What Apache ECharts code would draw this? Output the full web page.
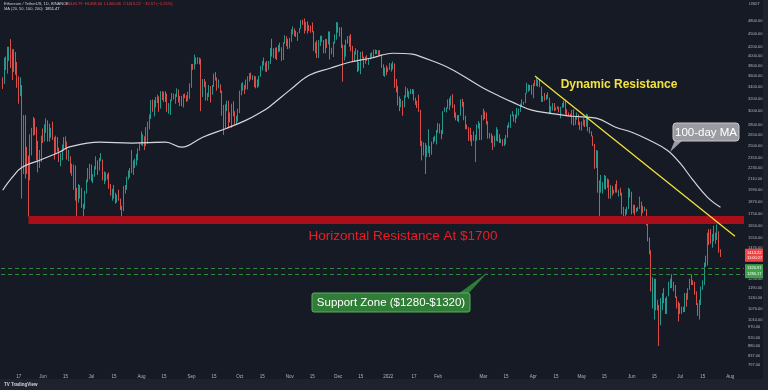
<!DOCTYPE html>
<html><head><meta charset="utf-8">
<script src="https://cdn.jsdelivr.net/npm/echarts@6/dist/echarts.min.js"></script>
<style>html,body{margin:0;padding:0;background:#161a25;}#c{width:768px;height:390px;}</style>
</head><body><div id="c"></div>
<script>
// ---------- DATA ----------
const startDate = '2021-05-07';
const firstOpen = 3490;
const closes = [
// May 2021 (7-31)
3480,3900,3950,3950,4168,3785,3715,4075,3642,3590,3280,3380,2450,2780,2430,2300,2100,2640,2700,2880,2740,2420,2280,2390,2630,
// Jun 2021
2590,2710,2860,2690,2630,2710,2590,2520,2610,2470,2360,2370,2510,2590,2550,2360,2370,2230,2160,2250,1890,1880,1970,1990,1830,1820,1970,2090,2160,2270,
// Jul 2021
2110,2150,2230,2320,2200,2320,2320,2110,2150,2140,2130,2030,1940,1990,1920,1880,1900,1890,1820,1790,1990,2030,2120,2190,2190,2230,2300,2300,2380,2460,2540,
// Aug 2021
2560,2610,2510,2720,2830,2890,3160,3010,3160,3140,3160,3040,3320,3270,3310,3170,3010,3030,3180,3290,3230,3240,3320,3170,3230,3100,3270,3240,3230,3230,3430,
// Sep 2021
3830,3790,3940,3890,3950,3930,3420,3490,3430,3200,3270,3410,3290,3430,3610,3570,3400,3430,3330,2970,2760,3080,3150,2930,2920,3060,2930,2810,2850,3000,
// Oct 2021
3310,3390,3420,3380,3520,3580,3590,3560,3580,3420,3540,3500,3600,3790,3870,3830,3850,3750,3880,4160,4060,3970,4170,4080,4220,4130,3920,4280,4420,4330,4290,
// Nov 2021
4320,4590,4610,4530,4470,4520,4620,4810,4730,4640,4720,4660,4640,4620,4560,4210,4290,3990,4300,4440,4320,4090,4340,4270,4520,4040,4100,4300,4440,4630,
// Dec 2021
4590,4510,4230,4120,4190,4350,4310,4440,4110,3900,4080,4130,3780,3860,4020,3960,3880,3960,3920,3940,4020,3980,4110,4050,4100,4070,4040,3800,3630,3710,3680,
// Jan 2022
3770,3830,3760,3790,3540,3410,3200,3080,3150,3080,3240,3370,3250,3310,3330,3350,3210,3160,3080,3000,2560,2410,2540,2440,2460,2470,2420,2550,2600,2600,2690,
// Feb 2022
2790,2690,2660,2990,3010,3050,3140,3120,3240,3070,2920,2910,2870,2930,3180,3120,2890,2780,2760,2620,2570,2640,2580,2600,2780,2780,2620,2920,
// Mar 2022
2970,2950,2840,2620,2660,2550,2500,2580,2730,2610,2560,2560,2510,2590,2620,2770,2810,2940,2950,2860,2900,2970,3030,3110,3110,3140,3290,3330,3400,3380,3280,
// Apr 2022
3460,3440,3520,3520,3410,3170,3230,3190,3260,3210,2980,3030,3120,3020,3040,3060,2990,3060,3100,3080,2980,2960,2940,2920,3010,2810,2890,2940,2820,2730,
// May 2022
2830,2860,2780,2940,2750,2700,2640,2520,2240,2340,2080,1960,2010,2060,2140,2020,2090,1910,2020,1960,1970,2040,1970,1980,1940,1790,1720,1790,1810,1990,1940,
// Jun 2022
1820,1830,1780,1800,1800,1860,1810,1790,1790,1660,1530,1430,1210,1210,1230,1070,1090,990,1120,1130,1120,1050,1140,1220,1240,1200,1190,1140,1100,1070,
// Jul 2022 (1-26)
1060,1070,1070,1150,1130,1190,1240,1230,1220,1170,1100,1040,1110,1190,1230,1350,1340,1580,1540,1520,1570,1540,1550,1600,1445.79,1413.22
];
const highs = [
3580,3970,3990,4200,4200,4372,4150,4150,4090,3880,3600,3580,3440,2940,2940,2490,2380,2660,2750,2910,2890,2760,2570,2450,2640,
2740,2800,2890,2860,2810,2750,2840,2620,2640,2620,2480,2410,2520,2620,2630,2560,2450,2370,2280,2270,2260,2010,2050,2040,2010,1850,1980,2100,2230,2280,
2270,2160,2250,2370,2320,2350,2410,2330,2190,2180,2160,2180,2050,2000,2040,1960,1940,1990,1900,1830,2030,2040,2130,2200,2230,2450,2320,2340,2400,2470,2550,
2700,2660,2630,2760,2840,2950,3180,3190,3180,3230,3270,3240,3330,3330,3320,3330,3290,3130,3190,3300,3280,3280,3380,3360,3250,3250,3280,3290,3260,3320,3470,
3840,3840,4030,3970,3980,3970,3950,3550,3550,3500,3300,3440,3420,3440,3650,3680,3580,3540,3450,3340,3100,3110,3170,3170,2980,3120,3160,3000,2930,3040,
3340,3470,3490,3440,3540,3600,3660,3670,3620,3610,3600,3540,3610,3800,3900,3970,3870,3900,3900,4170,4380,4170,4180,4190,4240,4290,4190,4300,4460,4440,4380,
4400,4600,4670,4620,4570,4530,4630,4830,4840,4870,4780,4800,4710,4690,4770,4560,4300,4340,4350,4450,4450,4350,4380,4370,4550,4550,4180,4310,4480,4780,
4770,4650,4650,4250,4240,4360,4440,4450,4490,4220,4100,4170,4130,3880,4090,4100,3990,3990,4020,3960,4060,4080,4140,4140,4130,4120,4130,4040,3830,3770,3810,
3770,3860,3850,3890,3850,3550,3420,3240,3200,3170,3260,3410,3380,3330,3370,3370,3360,3220,3170,3270,3020,2570,2550,2470,2510,2730,2500,2560,2620,2640,2720,
2820,2810,2720,3000,3060,3060,3190,3210,3250,3280,3110,2980,2940,2940,3190,3200,3150,2930,2800,2760,2750,2650,2700,2650,2800,2850,2820,2940,
3040,3000,2980,2850,2680,2670,2640,2640,2760,2730,2660,2600,2590,2600,2650,2790,2830,2950,3000,2950,2950,3050,3040,3120,3190,3150,3300,3480,3450,3440,3440,
3470,3530,3580,3540,3550,3410,3250,3300,3270,3310,3220,3080,3130,3130,3060,3080,3070,3070,3130,3170,3190,3030,2980,2960,3020,3030,2920,2980,2950,2840,
2840,2890,2870,2960,2950,2760,2700,2640,2530,2450,2440,2090,2150,2070,2150,2140,2110,2100,2040,2030,1990,2050,2090,1990,2010,1960,1820,1800,1820,2010,2000,
1970,1840,1840,1810,1820,1920,1870,1830,1820,1800,1680,1550,1450,1260,1250,1250,1120,1090,1130,1160,1190,1130,1140,1230,1250,1280,1230,1210,1140,1110,
1100,1080,1080,1160,1160,1190,1250,1280,1240,1230,1170,1100,1120,1200,1240,1360,1410,1590,1620,1620,1580,1650,1590,1660,1602,1458
];
const lows = [
3370,3460,3720,3650,3900,3760,3530,3680,3630,3390,3120,3250,1900,2160,2110,2160,1730,2090,2380,2640,2650,2320,2180,2230,2300,
2540,2560,2680,2560,2560,2610,2580,2330,2400,2430,2300,2250,2320,2440,2480,2330,2310,2170,2140,1990,1880,1700,1860,1900,1810,1720,1800,1950,2070,2100,
2080,2060,2130,2210,2150,2200,2310,2090,2050,2080,2100,2000,1930,1880,1900,1850,1860,1880,1790,1720,1780,1950,1990,2100,2120,2170,2150,2230,2260,2320,2440,
2510,2500,2450,2500,2530,2730,2880,2990,2920,3060,3130,2990,3040,3180,3150,3150,2990,2960,2940,3160,3190,3120,3230,3140,3080,3080,3060,3210,3150,3160,3200,
3390,3720,3730,3830,3840,3830,3000,3230,3400,3170,3170,3230,3140,3270,3410,3520,3340,3380,3300,2930,2650,2740,3000,2740,2830,2750,2920,2800,2800,2840,
2970,3260,3340,3280,3360,3360,3500,3540,3530,3400,3380,3390,3410,3590,3710,3810,3690,3680,3720,3840,3990,3960,3940,3920,4080,4100,3900,3920,4270,4210,4150,
4160,4310,4480,4440,4420,4330,4510,4610,4710,4500,4570,4500,4560,4520,4530,4110,4060,3960,3960,4220,4310,4060,4060,4170,4250,3930,4040,3980,4270,4360,
4520,4430,4170,3500,3910,3990,4270,4200,4100,3880,3880,4030,3680,3700,3640,3950,3760,3840,3900,3820,3930,3970,3960,4040,4040,4020,4020,3760,3610,3590,3620,
3680,3720,3690,3730,3390,3310,3090,3000,3060,2930,3060,3220,3230,3200,3280,3280,3170,3100,3050,2990,2500,2320,2380,2160,2360,2410,2360,2390,2530,2560,2520,
2680,2670,2590,2660,2990,2980,3040,3020,3090,3050,2900,2860,2850,2830,2940,3070,2860,2730,2730,2570,2560,2500,2570,2300,2570,2740,2580,2580,
2860,2880,2800,2600,2600,2540,2450,2490,2570,2560,2540,2540,2500,2500,2520,2610,2750,2750,2920,2840,2820,2890,2930,2990,3080,3100,3130,3290,3320,3340,3270,
3210,3420,3420,3410,3400,3150,3150,3170,3180,3200,2950,2960,3010,3000,3010,3030,2980,2890,3050,3060,2950,2930,2920,2910,2800,2780,2790,2870,2790,2720,
2710,2780,2760,2770,2700,2670,2630,2500,2220,2230,1960,1700,1960,1950,2000,1990,2010,1900,1900,1930,1950,1960,1960,1920,1930,1750,1710,1720,1750,1800,1910,
1750,1760,1740,1770,1780,1800,1730,1760,1780,1650,1520,1420,1170,1070,1010,1060,1060,880,980,1060,1100,1040,1040,1140,1190,1190,1170,1130,1070,1000,
1040,1040,1050,1050,1080,1120,1180,1210,1210,1150,1090,1030,1010,1090,1180,1210,1330,1340,1490,1500,1470,1520,1500,1530,1433,1400.66
];
// 100-day moving average
const maDates = ['2021-05-07','2021-05-13','2021-05-19','2021-05-30','2021-06-11','2021-06-17','2021-07-06','2021-07-26','2021-08-16','2021-08-26','2021-09-08','2021-09-23','2021-10-05','2021-10-13','2021-10-19','2021-11-01','2021-11-13','2021-11-26','2021-12-08','2021-12-21','2022-01-04','2022-01-16','2022-01-22','2022-02-08','2022-02-28','2022-03-11','2022-03-19','2022-03-31','2022-04-11','2022-04-25','2022-05-10','2022-05-22','2022-06-01','2022-06-12','2022-06-23','2022-07-01','2022-07-09','2022-07-18','2022-07-26'];
const maValues = [1985,2125,2239,2322,2421,2486,2552,2539,2552,2486,2619,2745,2863,2969,3064,3349,3620,3755,3874,3956,4061,4040,3978,3755,3400,3244,3145,3016,2969,2922,2892,2759,2688,2578,2447,2286,2092,1913,1816];
// axis ticks
const xTickDates = ['2021-05-17','2021-06-01','2021-06-15','2021-07-01','2021-07-15','2021-08-01','2021-08-15','2021-09-01','2021-09-15','2021-10-01','2021-10-15','2021-11-01','2021-11-15','2021-12-01','2021-12-15','2022-01-01','2022-01-17','2022-02-01','2022-03-01','2022-03-15','2022-04-01','2022-04-15','2022-05-01','2022-05-15','2022-06-01','2022-06-15','2022-07-01','2022-07-15','2022-08-01'];
const xTickLabels = ['17','Jun','15','Jul','15','Aug','15','Sep','15','Oct','15','Nov','15','Dec','15','2022','17','Feb','Mar','15','Apr','15','May','15','Jun','15','Jul','15','Aug'];
const yTicks = [4800,4500,4200,4000,3800,3600,3400,3200,3000,2800,2650,2500,2350,2230,2110,1990,1870,1750,1650,1550,1470,1250,1190,1130,1070,1010,970,920,880,837,797];
// annotations
const resistanceFrom = '2021-05-23';
const resistanceBand = [1665, 1735];
const supportLevels = [1320.91, 1280.17];
const lastPrice = 1413.22;
const trendDates = ['2022-04-02','2022-08-04'];
const trendPrices = [3606, 1560];

// ---------- BUILD ----------
const DAY = 86400000;
const ts = d => { const p = d.split('-').map(Number); return Date.UTC(p[0], p[1]-1, p[2]); };
const L = Math.log;
const startTs = ts(startDate);
const xMin = Date.UTC(2021,4,5,8,10);
const xMax = Date.UTC(2022,7,9,14,10);
const yMin = L(776), yMax = L(5363);

const candleData = closes.map((c,i) => {
  const o = i === 0 ? firstOpen : closes[i-1];
  const h = Math.max(highs[i], o, c), l = Math.min(lows[i], o, c);
  return [startTs + i*DAY, L(o), L(c), L(l), L(h)];
});
const maData = maDates.map((d,i) => [ts(d), L(maValues[i])]);
const xLabelMap = {};
xTickDates.forEach((d,i) => { xLabelMap[ts(d)] = xTickLabels[i]; });

const tagLabel = (bg, txt) => ({
  show: true, position: 'end', distance: 1, formatter: txt,
  backgroundColor: bg, color: '#ffffff', fontSize: 4, padding: [1.5, 2],
  fontFamily: 'Liberation Sans', lineHeight: 5
});

const chart = echarts.init(document.getElementById('c'), null, {renderer: 'canvas'});
chart.setOption({
  animation: false,
  backgroundColor: '#161a25',
  grid: {left: 0, right: 24, top: 0, bottom: 20, containLabel: false},
  xAxis: {
    type: 'value', min: xMin, max: xMax, scale: true,
    axisLine: {show: false}, axisTick: {show: false}, splitLine: {show: false},
    axisLabel: {
      customValues: xTickDates.map(ts),
      formatter: v => xLabelMap[v] || '',
      color: '#b2b5be', fontSize: 4.5, margin: 4, fontFamily: 'Liberation Sans'
    }
  },
  yAxis: {
    type: 'value', position: 'right', min: yMin, max: yMax, scale: true,
    axisLine: {show: false}, axisTick: {show: false}, splitLine: {show: false},
    axisLabel: {
      customValues: yTicks.map(L),
      formatter: v => Math.round(Math.exp(v)).toFixed(2),
      color: '#b2b5be', fontSize: 4, margin: 4, fontFamily: 'Liberation Sans'
    }
  },
  series: [
    {
      type: 'candlestick', data: candleData, encode: {x: 0, y: [1,2,3,4]},
      barWidth: 1.2, z: 3,
      itemStyle: {color: '#26a69a', color0: '#ef5350', borderColor: '#26a69a', borderColor0: '#ef5350', borderWidth: 0.9},
      markArea: {
        silent: true, z: 5,
        itemStyle: {color: '#a80f1b', opacity: 1},
        data: [[{coord: [ts(resistanceFrom), L(resistanceBand[1])]}, {coord: [xMax, L(resistanceBand[0])]}]]
      },
      markLine: {
        silent: true, symbol: ['none','none'], animation: false,
        data: [
          [{coord: [startTs - DAY, L(supportLevels[0])], lineStyle: {color: '#2e8b3a', type: [4,3], width: 1}, label: tagLabel('#3fa24a', String(supportLevels[0]))},
           {coord: [xMax, L(supportLevels[0])]}],
          [{coord: [startTs - DAY, L(supportLevels[1])], lineStyle: {color: '#2e8b3a', type: [4,3], width: 1}, label: tagLabel('#3fa24a', String(supportLevels[1]))},
           {coord: [xMax, L(supportLevels[1])]}],
          [{coord: [xMax - DAY, L(lastPrice)], lineStyle: {color: 'rgba(0,0,0,0)', width: 0.1, type: 'solid'}, label: tagLabel('#ef4444', lastPrice.toFixed(2) + '\n11:00:27')},
           {coord: [xMax, L(lastPrice)]}],
          [{coord: [ts(trendDates[0]), L(trendPrices[0])], lineStyle: {color: '#f2e23a', width: 1.3, type: 'solid'}, label: {show: false}},
           {coord: [ts(trendDates[1]), L(trendPrices[1])]}]
        ]
      }
    },
    {
      type: 'line', data: maData, smooth: 0.4, symbol: 'none', z: 4,
      lineStyle: {color: '#d4d6dc', width: 1.2}
    }
  ],
  graphic: [
    {type: 'rect', shape: {x: 0, y: 379, width: 768, height: 11}, style: {fill: '#1e222d'}, z: 10},
    {type: 'rect', shape: {x: 763, y: 0, width: 5, height: 390}, style: {fill: '#1e222d'}, z: 10},
    {type: 'text', z: 11, style: {x: 4, y: 385, text: 'TV TradingView', font: 'bold 4.5px "Liberation Sans"', fill: '#d1d4dc', verticalAlign: 'middle', textVerticalAlign: 'middle'}},
    {type: 'text', z: 11, style: {x: 749, y: 3.5, text: 'USDT', font: '4px "Liberation Sans"', fill: '#b2b5be', verticalAlign: 'middle', textVerticalAlign: 'middle'}},
    {type: 'text', z: 11, style: {x: 4, y: 4.3, text: 'Ethereum / TetherUS, 1D, BINANCE', font: '4px "Liberation Sans"', fill: '#c9ccd4', verticalAlign: 'middle', textVerticalAlign: 'middle'}},
    {type: 'text', z: 11, style: {x: 65, y: 4.3, text: 'O1445.79  H1458.00  L1400.66  C1413.22  \u221232.57 (\u22122.25%)', font: '4px "Liberation Sans"', fill: '#f23645', verticalAlign: 'middle', textVerticalAlign: 'middle'}},
    {type: 'text', z: 11, style: {x: 4, y: 9.3, text: 'MA (20, 50, 100, 200)', font: '4px "Liberation Sans"', fill: '#c9ccd4', verticalAlign: 'middle', textVerticalAlign: 'middle'}},
    {type: 'text', z: 11, style: {x: 45, y: 9.3, text: '1851.47', font: '4px "Liberation Sans"', fill: '#e6e8ee', verticalAlign: 'middle', textVerticalAlign: 'middle'}},
    // annotations
    {type: 'text', z: 12, style: {x: 619, y: 85, text: 'Dynamic Resistance', font: '600 12px "Liberation Sans"', fill: '#f3e23b', align: 'center', textAlign: 'center', verticalAlign: 'middle', textVerticalAlign: 'middle'}},
    {type: 'text', z: 12, style: {x: 403, y: 236, text: 'Horizontal Resistance At $1700', font: '13.5px "Liberation Sans"', fill: '#ee1c25', align: 'center', textAlign: 'center', verticalAlign: 'middle', textVerticalAlign: 'middle'}},
    {type: 'polygon', z: 12, shape: {points: [[675,140],[670,152],[683,140]]}, style: {fill: '#9a9ca1'}},
    {type: 'rect', z: 12, shape: {x: 673, y: 123, width: 66, height: 18, r: 3}, style: {fill: '#9a9ca1', stroke: '#c4c6cb', lineWidth: 1}},
    {type: 'text', z: 13, style: {x: 706, y: 132.5, text: '100-day MA', font: '11.5px "Liberation Sans"', fill: '#ffffff', align: 'center', textAlign: 'center', verticalAlign: 'middle', textVerticalAlign: 'middle'}},
    {type: 'polygon', z: 12, shape: {points: [[458,294],[488,272],[468,294]]}, style: {fill: '#2f7d36'}},
    {type: 'rect', z: 12, shape: {x: 312, y: 293, width: 158, height: 19, r: 2}, style: {fill: '#2f7d36', stroke: '#5cae62', lineWidth: 1}},
    {type: 'text', z: 13, style: {x: 391, y: 302.5, text: 'Support Zone ($1280-$1320)', font: '11.5px "Liberation Sans"', fill: '#ffffff', align: 'center', textAlign: 'center', verticalAlign: 'middle', textVerticalAlign: 'middle'}}
  ]
});
</script>
</body></html>
